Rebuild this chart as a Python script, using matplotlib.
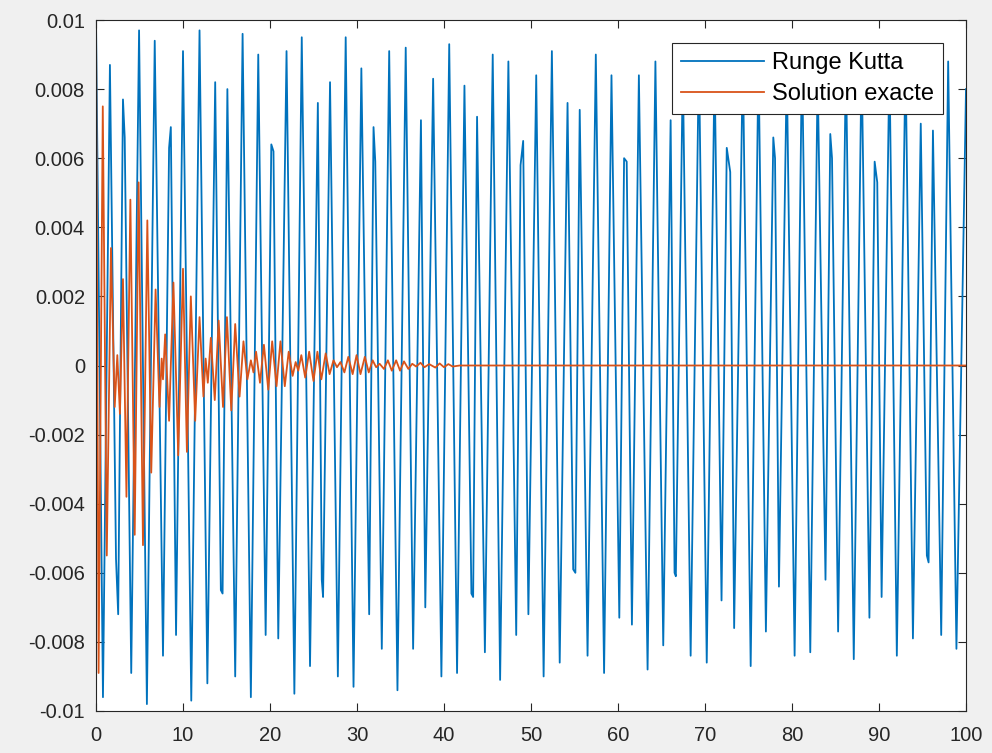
#!/usr/bin/env python3
"""
Runge Kutta vs exact solution, MATLAB-style figure.
"""

import numpy as np
import matplotlib
matplotlib.use("Agg")
import matplotlib.pyplot as plt

# Runge Kutta: turning points (t, value in 1e-3)
rk_t = [0.0, 0.8, 1.6, 2.3, 2.55, 3.1, 3.3, 4.05, 4.95, 5.85, 6.75, 7.7, 8.4, 8.6, 9.2,
        10.0, 10.95, 11.9, 12.8, 13.7, 14.35, 14.55, 15.1, 16.0, 16.85, 17.8, 18.65, 19.5,
        20.15, 20.4, 20.95, 21.9, 22.8, 23.65, 24.6, 25.5, 25.95, 26.1, 26.9, 27.8, 28.7,
        29.6, 30.5, 31.4, 31.9, 32.1, 32.85, 33.7, 34.65, 35.6, 36.45, 37.35, 37.85, 38.75,
        39.7, 40.6, 41.5, 42.35, 43.15, 43.35, 43.8, 44.7, 45.6, 46.45, 47.4, 48.3, 48.8,
        49.1, 49.7, 50.6, 51.45, 52.4, 53.3, 54.2, 54.85, 55.1, 55.6, 56.5, 57.45, 58.4,
        59.25, 60.15, 60.7, 61.0, 61.6, 62.4, 63.4, 64.3, 65.2, 66.05, 66.5, 66.65, 67.45,
        68.35, 69.3, 70.2, 71.1, 71.9, 72.5, 72.9, 73.35, 74.35, 75.25, 76.15, 77.0, 77.85,
        78.05, 78.5, 79.4, 80.3, 81.15, 82.1, 82.95, 83.85, 84.4, 84.6, 85.3, 86.2, 87.1,
        88.0, 88.9, 89.5, 89.8, 90.3, 91.2, 92.05, 93.05, 93.9, 94.8, 95.5, 95.7, 96.2,
        97.15, 97.95, 98.9, 100.0]
rk_y = [10.0, -9.6, 8.7, -5.6, -7.2, 7.7, 6.6, -8.9, 9.7, -9.8, 9.4, -8.4, 6.3, 6.9, -7.8,
        9.1, -9.7, 9.7, -9.2, 8.2, -6.5, -6.6, 8.0, -9.0, 9.6, -9.6, 9.0, -7.8,
        6.4, 6.2, -7.9, 9.1, -9.5, 9.5, -8.7, 7.6, -6.2, -6.7, 8.2, -9.0, 9.5,
        -9.3, 8.6, -7.2, 6.9, 5.9, -8.2, 9.1, -9.4, 9.2, -8.2, 7.1, -7.0, 8.3,
        -9.0, 9.3, -8.9, 8.1, -6.6, -6.7, 7.2, -8.3, 9.0, -9.1, 8.8, -7.8, 5.8,
        6.5, -7.2, 8.4, -9.0, 9.1, -8.6, 7.6, -5.9, -6.0, 7.4, -8.4, 9.0, -8.9,
        8.4, -7.3, 6.0, 5.9, -7.5, 8.4, -8.8, 8.8, -8.1, 7.1, -6.0, -6.1, 8.6,
        -8.4, 9.0, -8.6, 8.7, -6.8, 6.3, 5.6, -7.6, 8.9, -8.7, 8.9, -7.7, 6.6,
        6.0, -6.4, 8.6, -8.4, 9.0, -8.3, 8.4, -6.2, 6.7, 6.0, -7.7, 8.8, -8.5,
        8.9, -7.3, 5.9, 5.3, -6.7, 8.8, -8.4, 8.9, -7.9, 7.0, -5.5, -5.7, 6.8,
        -7.8, 8.8, -8.2, 8.0]

# Exact solution: decaying beats, turning points (t, value in 1e-3)
ex_t = [0.0, 0.3, 0.78, 1.24, 1.72, 2.15, 2.45, 2.75, 3.1, 3.5, 3.95, 4.45, 4.9, 5.4,
        5.9, 6.35, 6.85, 7.3, 7.55, 7.7, 7.95, 8.4, 8.9, 9.45, 10.0, 10.45, 10.9, 11.4,
        11.9, 12.35, 12.6, 12.85, 13.2, 13.65, 14.1, 14.6, 15.05, 15.55, 16.0, 16.5,
        16.95, 17.4, 17.8, 18.1, 18.4, 18.85, 19.3, 19.8, 20.25, 20.75, 21.2, 21.7,
        22.15, 22.6, 22.95, 23.25, 23.6, 24.05, 24.5, 25.0, 25.45, 25.9, 26.4, 26.85,
        27.3, 27.7, 28.1, 28.55, 29.0, 29.5, 29.95, 30.4, 30.9, 31.35, 31.8, 32.2, 32.6,
        33.1, 33.55, 34.0, 34.5, 34.95, 35.4, 35.9, 36.35, 36.8, 37.3, 37.75, 38.3, 39.0,
        39.5, 40.0, 40.5, 41.0, 41.8, 100.0]
ex_y = [10.0, -8.9, 7.5, -5.5, 3.4, -1.2, 0.3, -1.4, 2.5, -3.8, 4.8, -4.9, 5.3, -5.2,
        4.2, -3.1, 2.2, -1.2, 0.2, -0.4, 0.9, -1.6, 2.4, -2.6, 2.8, -2.5, 2.0, -1.6,
        1.4, -0.9, 0.2, -0.5, 0.8, -1.0, 1.3, -1.2, 1.4, -1.3, 1.2, -0.9,
        0.7, -0.4, 0.15, -0.2, 0.4, -0.5, 0.6, -0.7, 0.7, -0.6, 0.7, -0.6,
        0.4, -0.3, 0.1, -0.15, 0.3, -0.35, 0.4, -0.45, 0.4, -0.4, 0.35, -0.25,
        0.15, -0.05, 0.1, -0.2, 0.25, -0.25, 0.3, -0.25, 0.25, -0.2, 0.15, -0.05, 0.05,
        -0.1, 0.15, -0.15, 0.15, -0.15, 0.12, -0.1, 0.05, -0.03, 0.08, -0.05, 0.04, -0.06,
        0.06, -0.05, 0.04, -0.03, 0.0, 0.0]

x_ticks = [0, 10, 20, 30, 40, 50, 60, 70, 80, 90, 100]
y_ticks = [-0.01, -0.008, -0.006, -0.004, -0.002, 0, 0.002, 0.004, 0.006, 0.008, 0.01]
y_tick_labels = ['-0.01', '-0.008', '-0.006', '-0.004', '-0.002', '0',
                 '0.002', '0.004', '0.006', '0.008', '0.01']
legend_labels = ['Runge Kutta', 'Solution exacte']

plt.rcParams['font.family'] = ['Liberation Sans', 'DejaVu Sans']

fig = plt.figure(figsize=(9.92, 7.53), dpi=100, facecolor='#f0f0f0')
ax = fig.add_axes([96 / 992, 1 - 711 / 753, 870 / 992, 691 / 753])
ax.set_facecolor('white')

ax.plot(rk_t, np.array(rk_y) * 1e-3, color='#0072BD', lw=1.3, label=legend_labels[0])
ax.plot(ex_t, np.array(ex_y) * 1e-3, color='#D95319', lw=1.3, label=legend_labels[1])

ax.set_xlim(0, 100)
ax.set_ylim(-0.01, 0.01)
ax.set_xticks(x_ticks)
ax.set_xticklabels([str(v) for v in x_ticks])
ax.set_yticks(y_ticks)
ax.set_yticklabels(y_tick_labels)

ax.tick_params(direction='in', top=True, right=True, length=6, width=0.8,
               colors='#262626', labelsize=14.5)
ax.tick_params(axis='x', pad=11)
ax.tick_params(axis='y', pad=8)
for sp in ax.spines.values():
    sp.set_color('#262626')
    sp.set_linewidth(0.8)

leg = ax.legend(loc='upper right', bbox_to_anchor=(943 / 992, 1 - 43 / 753),
                bbox_transform=fig.transFigure, borderaxespad=0, fontsize=17,
                handlelength=3.5, handletextpad=0.35, labelspacing=0.38,
                borderpad=0.38, fancybox=False, framealpha=1)
leg.get_frame().set_edgecolor('#262626')
leg.get_frame().set_linewidth(0.8)

fig.savefig('out.png', dpi=100, facecolor=fig.get_facecolor())
